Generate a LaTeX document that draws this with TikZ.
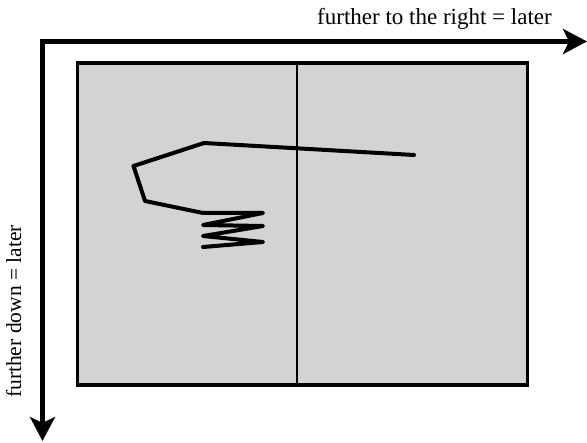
\documentclass[tikz,border=0pt]{standalone}
\usepackage{fontspec}
\setmainfont{Liberation Serif}
\usetikzlibrary{arrows.meta}
\definecolor{panelgray}{RGB}{211,211,211}
\tikzset{
  axis/.style={line width=5pt,line join=miter,{Stealth[length=24pt,width=25pt,inset=6pt]}-{Stealth[length=24pt,width=25pt,inset=6pt]}},
  panel/.style={draw=black,line width=3.6pt,fill=panelgray},
  divider/.style={draw=black,line width=1.3pt},
  trace/.style={draw=black,line width=4pt,line join=round,line cap=round},
  lbl/.style={font=\fontsize{23}{25}\selectfont,inner sep=0pt},
  vlbl/.style={font=\fontsize{21.5}{24}\selectfont,inner sep=0pt}
}
\begin{document}
\begin{tikzpicture}[x=1pt,y=-1pt]
\useasboundingbox (0,0) rectangle (587,443);
\coordinate (corner) at (42.5,41.5);
\coordinate (xend) at (587,41.5);
\coordinate (yend) at (42.5,441);
\draw[axis] (yend) -- (corner) -- (xend);
\node[lbl,anchor=base] (xlabel) at (434.5,25) {further to the right = later};
\node[vlbl,anchor=base,rotate=90] (ylabel) at (21,311.5) {further down = later};
\draw[panel] (77.5,63) rectangle (527.5,385);
\coordinate (dtop) at (297,63);
\coordinate (dbot) at (297,385);
\draw[divider] (dtop) -- (dbot);
\coordinate (p0) at (414,155);
\coordinate (p1) at (204,143);
\coordinate (p2) at (133.5,166);
\coordinate (p3) at (145,201);
\coordinate (p4) at (203,213);
\coordinate (p5) at (263,213);
\coordinate (p6) at (203,225);
\coordinate (p7) at (263,226);
\coordinate (p8) at (203,236);
\coordinate (p9) at (263,242);
\coordinate (p10) at (203,247);
\draw[trace] (p0) -- (p1) -- (p2) -- (p3) -- (p4) -- (p5) -- (p6) -- (p7) -- (p8) -- (p9) -- (p10);
\end{tikzpicture}
\end{document}
